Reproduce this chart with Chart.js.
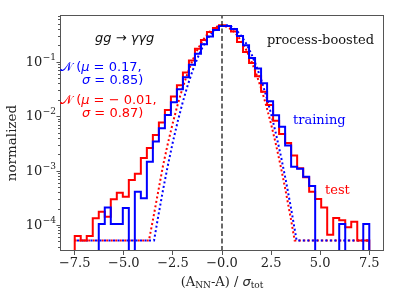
<!DOCTYPE html>
<html lang="en">
<head>
<meta charset="UTF-8">
<title>gg -> yyg process-boosted</title>
<script src="https://cdn.jsdelivr.net/npm/chart.js"></script>
<style>
  body { margin: 0; background: #fff; }
  canvas { display: block; }
</style>
</head>
<body>
<canvas id="histChart" width="399" height="307"></canvas>
<script>
// histogram binning: 49 bins over [-7.5, 7.5]
const binLow = -7.5;
const binHigh = 7.5;
const nBins = 49;

// normalized bin contents (0 = empty bin)
const testHist = [
  6.3e-5, 5.2e-5, 6.3e-5, 1.33e-4, 1.75e-4, 1.42e-4, 2.96e-4, 3.9e-4, 3.3e-4, 6.7e-4,
  8.7e-4, 1.7e-3, 2.6e-3, 4.5e-3, 7.6e-3, 0.013, 0.023, 0.037, 0.063, 0.105,
  0.172, 0.25, 0.35, 0.415, 0.465, 0.45, 0.36, 0.23, 0.15, 0.095,
  0.054, 0.028, 0.016, 0.0082, 0.0047, 0.0032, 0.0019, 0.0011, 7.5e-4, 4.1e-4,
  3.0e-4, 2.1e-4, 6.6e-5, 1.35e-4, 1.22e-4, 9.1e-5, 1.15e-4, 5.2e-5, 5.2e-5
];
const trainHist = [
  0, 0, 0, 0, 1.04e-4, 2.1e-4, 1.04e-4, 1.04e-4, 2.05e-4, 0,
  4.1e-4, 3.1e-4, 1.45e-3, 3.4e-3, 6.0e-3, 0.0105, 0.018, 0.031, 0.052, 0.088,
  0.14, 0.21, 0.29, 0.38, 0.45, 0.45, 0.40, 0.297, 0.201, 0.117,
  0.075, 0.040, 0.0188, 0.0104, 0.0064, 0.0029, 0.00118, 0.00108, 7.7e-4, 5.2e-4,
  0, 0, 0, 0, 1.04e-4, 0, 0, 0, 1.04e-4
];

// gaussian fit curves (dotted), sampled points
const testFitX = [-7.5, -3.72, -3.5, -3.25, -3.0, -2.75, -2.5, -2.25, -2.0, -1.75, -1.5, -1.25, -1.0, -0.75, -0.5, -0.25,
  0, 0.25, 0.5, 0.75, 1.0, 1.25, 1.5, 1.75, 2.0, 2.25, 2.5, 2.75, 3.0, 3.25, 3.5, 3.70, 7.5];
const testFitY = [5.2e-5, 5.2e-5, 1.34e-4, 4.09e-4, 1.25e-3, 3.22e-3, 7.64e-3, 0.0167, 0.0335, 0.062, 0.1057, 0.1661, 0.240, 0.3193, 0.3913, 0.4414,
  0.4585, 0.4385, 0.3862, 0.3131, 0.2337, 0.1606, 0.1016, 0.0592, 0.0318, 0.0157, 7.14e-3, 2.99e-3, 1.15e-3, 4.09e-4, 1.34e-4, 5.2e-5, 5.2e-5];
const trainFitX = [-7.5, -3.46, -3.25, -3.0, -2.75, -2.5, -2.25, -2.0, -1.75, -1.5, -1.25, -1.0, -0.75, -0.5, -0.25, 0,
  0.25, 0.5, 0.75, 1.0, 1.25, 1.5, 1.75, 2.0, 2.25, 2.5, 2.75, 3.0, 3.25, 3.5, 3.75, 3.80, 7.5];
const trainFitY = [5.2e-5, 5.2e-5, 1.43e-4, 4.48e-4, 1.28e-3, 3.38e-3, 8.15e-3, 0.018, 0.0366, 0.0681, 0.1162, 0.182, 0.2613, 0.344, 0.4154, 0.46,
  0.4672, 0.4353, 0.3718, 0.2914, 0.2094, 0.138, 0.0834, 0.0462, 0.0235, 0.011, 4.69e-3, 1.84e-3, 6.6e-4, 2.18e-4, 6.6e-5, 5.2e-5, 5.2e-5];

// axes
const xMin = -8.25, xMax = 8.25;
const yMin = 3.33e-5, yMax = 0.72;
const xTickValues = [-7.5, -5.0, -2.5, 0, 2.5, 5.0, 7.5];
const xTickLabels = ['\u22127.5', '\u22125.0', '\u22122.5', '\u22120.0', '2.5', '5.0', '7.5'];
const yTickExps = [-4, -3, -2, -1];

const RED = '#ff0000';
const BLUE = '#0000ff';
const EMPTY = 1e-7; // empty bins go below the axis

const binEdges = [];
for (let i = 0; i <= nBins; i++) binEdges.push(binLow + i * (binHigh - binLow) / nBins);

function histPoints(vals) {
  const pts = [{x: binEdges[0], y: EMPTY}];
  vals.forEach((v, i) => pts.push({x: binEdges[i], y: v > 0 ? v : EMPTY}));
  pts.push({x: binEdges[nBins], y: EMPTY});
  return pts;
}
const zip = (xs, ys) => xs.map((x, i) => ({x: x, y: ys[i]}));

// text helper: draw a run of [text, font, color] pieces
function drawRun(ctx, x, y, pieces) {
  ctx.textBaseline = 'middle';
  ctx.textAlign = 'left';
  pieces.forEach(p => {
    ctx.font = p[1];
    ctx.fillStyle = p[2];
    ctx.fillText(p[0], x, y + (p[3] || 0));
    x += ctx.measureText(p[0]).width;
  });
}

const frame = {
  id: 'frame',
  afterDraw(chart) {
    const ctx = chart.ctx;
    const a = chart.chartArea;
    const ys = chart.scales.y;
    ctx.save();
    // box
    ctx.strokeStyle = '#555';
    ctx.lineWidth = 1;
    ctx.strokeRect(a.left + 0.5, a.top + 0.5, a.right - a.left - 1, a.bottom - a.top - 1);

    // y ticks (major + minor) and labels
    for (let e = -5; e <= 0; e++) {
      for (let k = 1; k <= 9; k++) {
        const v = k * Math.pow(10, e);
        if (v < yMin || v > yMax) continue;
        const py = Math.round(ys.getPixelForValue(v)) + 0.5;
        const len = k === 1 ? 3.5 : 2;
        ctx.beginPath();
        ctx.moveTo(a.left, py);
        ctx.lineTo(a.left - len, py);
        ctx.stroke();
      }
    }
    ctx.fillStyle = '#222';
    yTickExps.forEach(e => {
      const py = ys.getPixelForValue(Math.pow(10, e));
      const sup = '\u2212' + Math.abs(e);
      ctx.font = '9px "DejaVu Serif"';
      const wSup = ctx.measureText(sup).width;
      ctx.font = '13px "DejaVu Serif"';
      const wBase = ctx.measureText('10').width;
      const right = a.left - 4;
      ctx.textBaseline = 'middle';
      ctx.textAlign = 'left';
      ctx.fillText('10', right - wSup - wBase - 0.5, py + 1);
      ctx.font = '9px "DejaVu Serif"';
      ctx.fillText(sup, right - wSup, py - 4);
    });

    // axis titles
    ctx.save();
    ctx.translate(12, 143);
    ctx.rotate(-Math.PI / 2);
    ctx.font = '13.5px "DejaVu Serif"';
    ctx.fillStyle = '#222';
    ctx.textAlign = 'center';
    ctx.textBaseline = 'middle';
    ctx.fillText('normalized', 0, 0);
    ctx.restore();

    const serif = '13px "DejaVu Serif"';
    const sub = '9px "DejaVu Serif"';
    const xl = [['(A', serif, '#222'], ['NN', sub, '#222', 3], ['-A) / ', serif, '#222'],
                ['\u03c3', 'italic 13px "DejaVu Sans"', '#222'], ['tot', sub, '#222', 3]];
    let w = 0;
    xl.forEach(p => { ctx.font = p[1]; w += ctx.measureText(p[0]).width; });
    drawRun(ctx, (a.left + a.right) / 2 - w / 2, 283, xl);

    // annotations
    const sans = '13px "DejaVu Sans"';
    const sansIt = 'italic 13px "DejaVu Sans"';
    drawRun(ctx, 95, 39, [['gg \u2192 \u03b3\u03b3g', sansIt, '#111']]);
    drawRun(ctx, 60, 68, [['\ud835\udca9', sans, BLUE], [' (', sans, BLUE], ['\u03bc', sansIt, BLUE], [' = 0.17,', sans, BLUE]]);
    drawRun(ctx, 82, 81, [['\u03c3', sansIt, BLUE], [' = 0.85)', sans, BLUE]]);
    drawRun(ctx, 60, 101, [['\ud835\udca9', sans, RED], [' (', sans, RED], ['\u03bc', sansIt, RED], [' = \u2212 0.01,', sans, RED]]);
    drawRun(ctx, 82, 114, [['\u03c3', sansIt, RED], [' = 0.87)', sans, RED]]);
    drawRun(ctx, 267, 41, [['process-boosted', serif, '#111']]);
    drawRun(ctx, 293, 121, [['training', serif, BLUE]]);
    drawRun(ctx, 325, 191, [['test', serif, RED]]);
    ctx.restore();
  }
};

new Chart(document.getElementById('histChart'), {
  type: 'line',
  data: {
    datasets: [
      {
        label: 'zero',
        data: [{x: 0, y: yMin}, {x: 0, y: yMax}],
        borderColor: '#1a1a1a', borderWidth: 1.3, borderDash: [5, 2.5],
        pointRadius: 0
      },
      {
        label: 'training',
        data: histPoints(trainHist),
        borderColor: BLUE, borderWidth: 2, stepped: true,
        pointRadius: 0, borderJoinStyle: 'miter'
      },
      {
        label: 'test',
        data: histPoints(testHist),
        borderColor: RED, borderWidth: 2, stepped: true,
        pointRadius: 0, borderJoinStyle: 'miter'
      },
      {
        label: 'training fit',
        data: zip(trainFitX, trainFitY),
        borderColor: BLUE, borderWidth: 2, borderDash: [2, 2.5], borderDashOffset: 2.2,
        pointRadius: 0
      },
      {
        label: 'test fit',
        data: zip(testFitX, testFitY),
        borderColor: RED, borderWidth: 2, borderDash: [2, 2.5],
        pointRadius: 0
      }
    ]
  },
  options: {
    responsive: false,
    animation: false,
    devicePixelRatio: 1,
    layout: { padding: { top: 15, right: 15, left: 0, bottom: 0 } },
    plugins: { legend: { display: false }, tooltip: { enabled: false } },
    scales: {
      x: {
        type: 'linear',
        min: xMin, max: xMax,
        afterFit: s => { s.height = 56; },
        afterBuildTicks: s => { s.ticks = xTickValues.map(v => ({value: v})); },
        grid: { drawOnChartArea: false, drawTicks: true, tickLength: 4, color: '#555' },
        border: { display: false },
        ticks: {
          padding: 1,
          color: '#222',
          font: { family: 'DejaVu Serif', size: 13 },
          maxRotation: 0,
          callback: (v, i) => xTickLabels[i]
        }
      },
      y: {
        type: 'logarithmic',
        min: yMin, max: yMax,
        afterFit: s => { s.width = 60; },
        grid: { display: false },
        border: { display: false },
        ticks: { display: false }
      }
    }
  },
  plugins: [frame]
});
</script>
</body>
</html>
